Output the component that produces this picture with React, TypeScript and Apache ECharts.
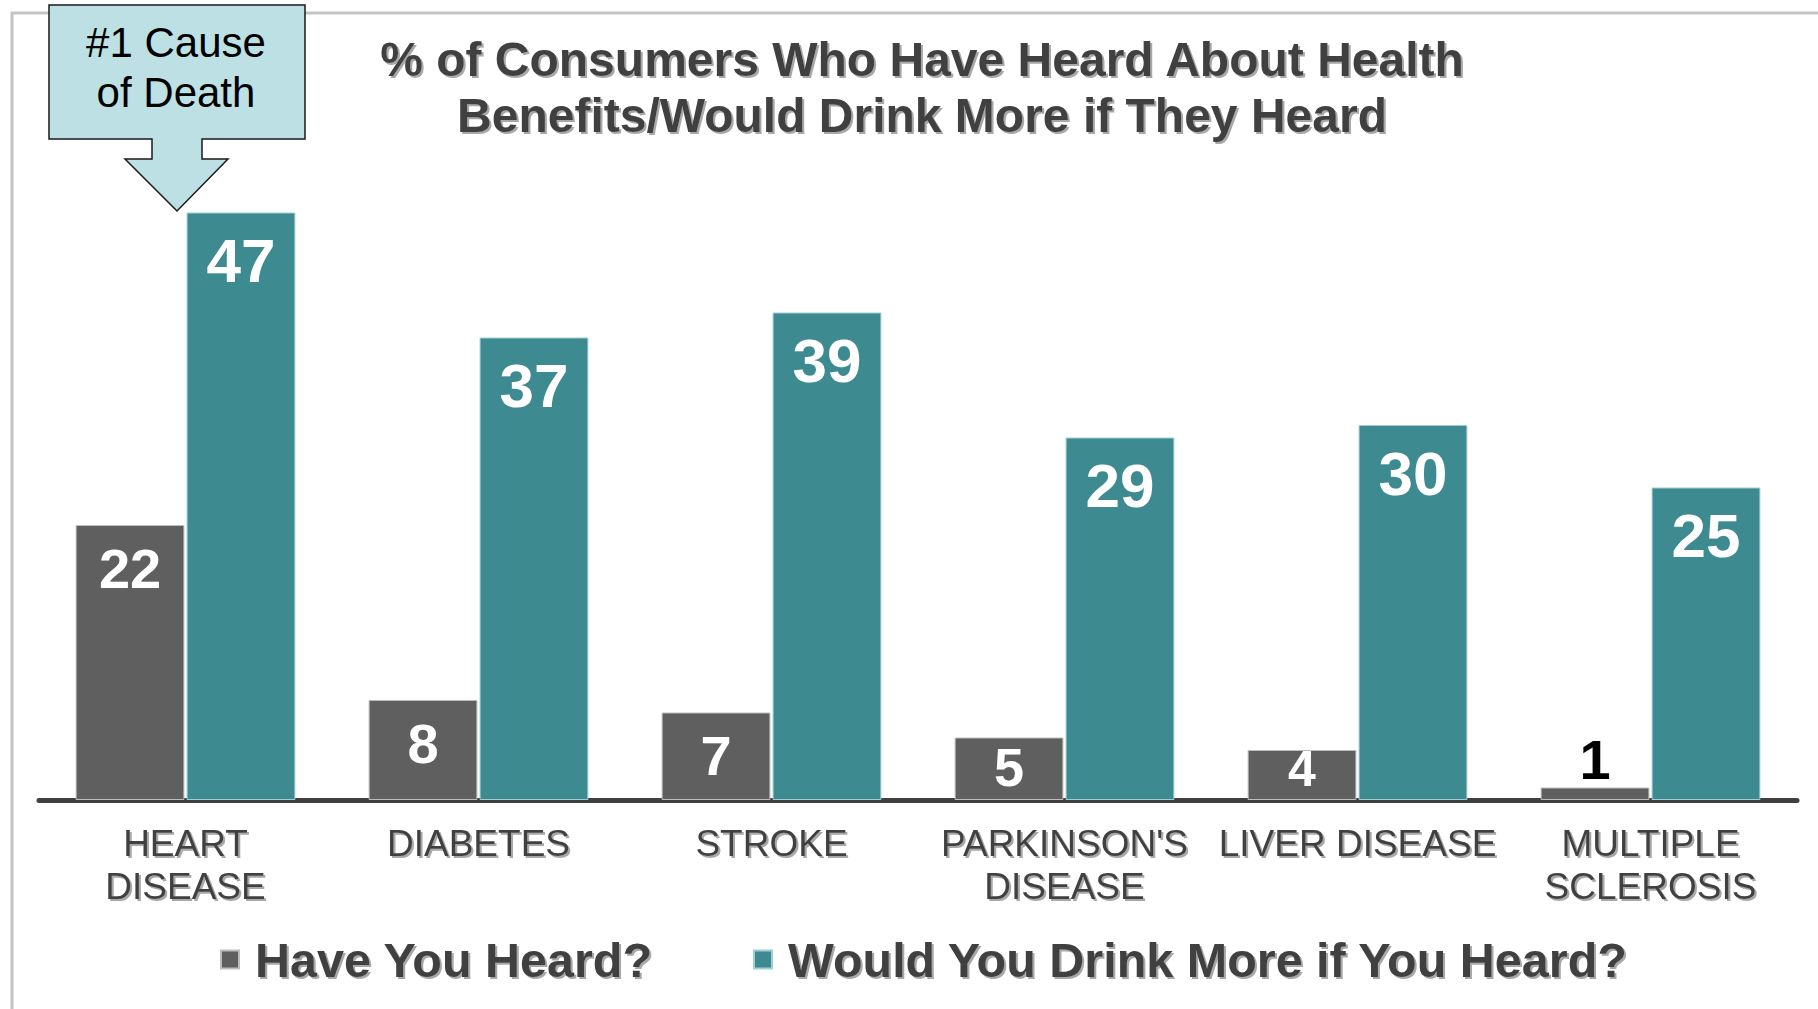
import React, { useEffect, useRef } from "react";
import * as echarts from "echarts";

const categories = [
  "HEART\nDISEASE",
  "DIABETES",
  "STROKE",
  "PARKINSON'S\nDISEASE",
  "LIVER DISEASE",
  "MULTIPLE\nSCLEROSIS",
];
const heardValues = [22, 8, 7, 5, 4, 1];
const drinkValues = [47, 37, 39, 29, 30, 25];
const seriesNames = ["Have You Heard?", "Would You Drink More if You Heard?"];
const titleLines = [
  "% of Consumers Who Have Heard About Health",
  "Benefits/Would Drink More if They Heard",
];
const calloutLines = ["#1 Cause", "of Death"];

const GRAY = "#5f5f5f";
const TEAL = "#3d8a90";
const TEXT = "#404040";
const FONT = "'Liberation Sans', Arial, sans-serif";

function heardLabel(v: number) {
  if (v <= 1) {
    return { show: true, position: "top", distance: 0, color: "#000", fontSize: 56, fontWeight: "bold" };
  }
  if (v <= 5) {
    return {
      show: true,
      position: "inside",
      offset: [0, v <= 4 ? -6 : -2],
      color: "#fff",
      fontSize: v <= 4 ? 50 : 54,
      fontWeight: "bold",
    };
  }
  return { show: true, position: "insideTop", distance: 15, color: "#fff", fontSize: 56, fontWeight: "bold" };
}

export default function App() {
  const ref = useRef<HTMLDivElement>(null);
  useEffect(() => {
    if (!ref.current) return;
    const chart = echarts.init(ref.current, undefined, { renderer: "svg" });
    const shadow = {
      textShadowColor: "#a8a8a8",
      textShadowBlur: 1,
      textShadowOffsetX: 2,
      textShadowOffsetY: 2,
    };
    chart.setOption({
      animation: false,
      backgroundColor: "#ffffff",
      textStyle: { fontFamily: FONT },
      title: {
        text: titleLines.join("\n"),
        left: 917,
        top: 26,
        textAlign: "center",
        textStyle: {
          fontFamily: FONT,
          fontSize: 48,
          fontWeight: "bold",
          color: TEXT,
          lineHeight: 56,
          ...shadow,
        },
      },
      legend: {
        left: 215,
        top: 930,
        itemWidth: 18,
        itemHeight: 18,
        itemGap: 100,
        icon: "rect",
        textStyle: {
          fontFamily: FONT,
          fontSize: 48.5,
          fontWeight: "bold",
          color: TEXT,
          padding: [0, 0, 0, 11],
          ...shadow,
        },
        data: seriesNames,
      },
      grid: { left: 39, right: 21, top: 50, bottom: 209, containLabel: false },
      xAxis: {
        type: "category",
        data: categories,
        axisLine: { show: true, lineStyle: { color: "#404040", width: 5 } },
        axisTick: { show: false },
        axisLabel: {
          interval: 0,
          margin: 22,
          fontFamily: FONT,
          fontSize: 37,
          lineHeight: 43,
          color: TEXT,
          ...shadow,
        },
      },
      yAxis: {
        type: "value",
        min: 0,
        max: 60,
        interval: 5,
        show: false,
        splitLine: { show: false },
      },
      series: [
        {
          name: seriesNames[0],
          type: "bar",
          barCategoryGap: "25%",
          barGap: "2%",
          itemStyle: { color: GRAY, borderColor: "#bdbdbd", borderWidth: 1 },
          data: heardValues.map((v) => ({ value: v, label: heardLabel(v) })),
          z: 2,
        },
        {
          name: seriesNames[1],
          type: "bar",
          barCategoryGap: "25%",
          barGap: "2%",
          itemStyle: { color: TEAL, borderColor: "#9fcfd2", borderWidth: 1 },
          label: {
            show: true,
            position: "insideTop",
            distance: 17,
            color: "#fff",
            fontSize: 62,
            fontWeight: "bold",
          },
          data: drinkValues,
          z: 2,
        },
      ],
      graphic: [
        {
          type: "polyline",
          silent: true,
          z: 1,
          shape: { points: [[12, 1009], [12, 13], [1818, 13]] },
          style: { stroke: "#c4c4c4", lineWidth: 3, fill: null },
        },
        {
          type: "polygon",
          silent: true,
          z: 10,
          shape: {
            points: [
              [49, 5], [305, 5], [305, 139], [202, 139], [202, 159], [228, 159],
              [177, 211], [125, 159], [152, 159], [152, 139], [49, 139],
            ],
          },
          style: { fill: "#bde0e4", stroke: "#1a1a1a", lineWidth: 1.5 },
        },
        {
          type: "text",
          silent: true,
          z: 11,
          x: 176,
          y: 67,
          style: {
            text: calloutLines.join("\n"),
            fontFamily: FONT,
            fontSize: 42,
            lineHeight: 50,
            fill: "#000",
            align: "center",
            verticalAlign: "middle",
          },
        },
      ],
    });
    return () => chart.dispose();
  }, []);
  return (
    <div
      ref={ref}
      style={{ position: "fixed", left: 0, top: 0, width: 1818, height: 1009 }}
    />
  );
}
